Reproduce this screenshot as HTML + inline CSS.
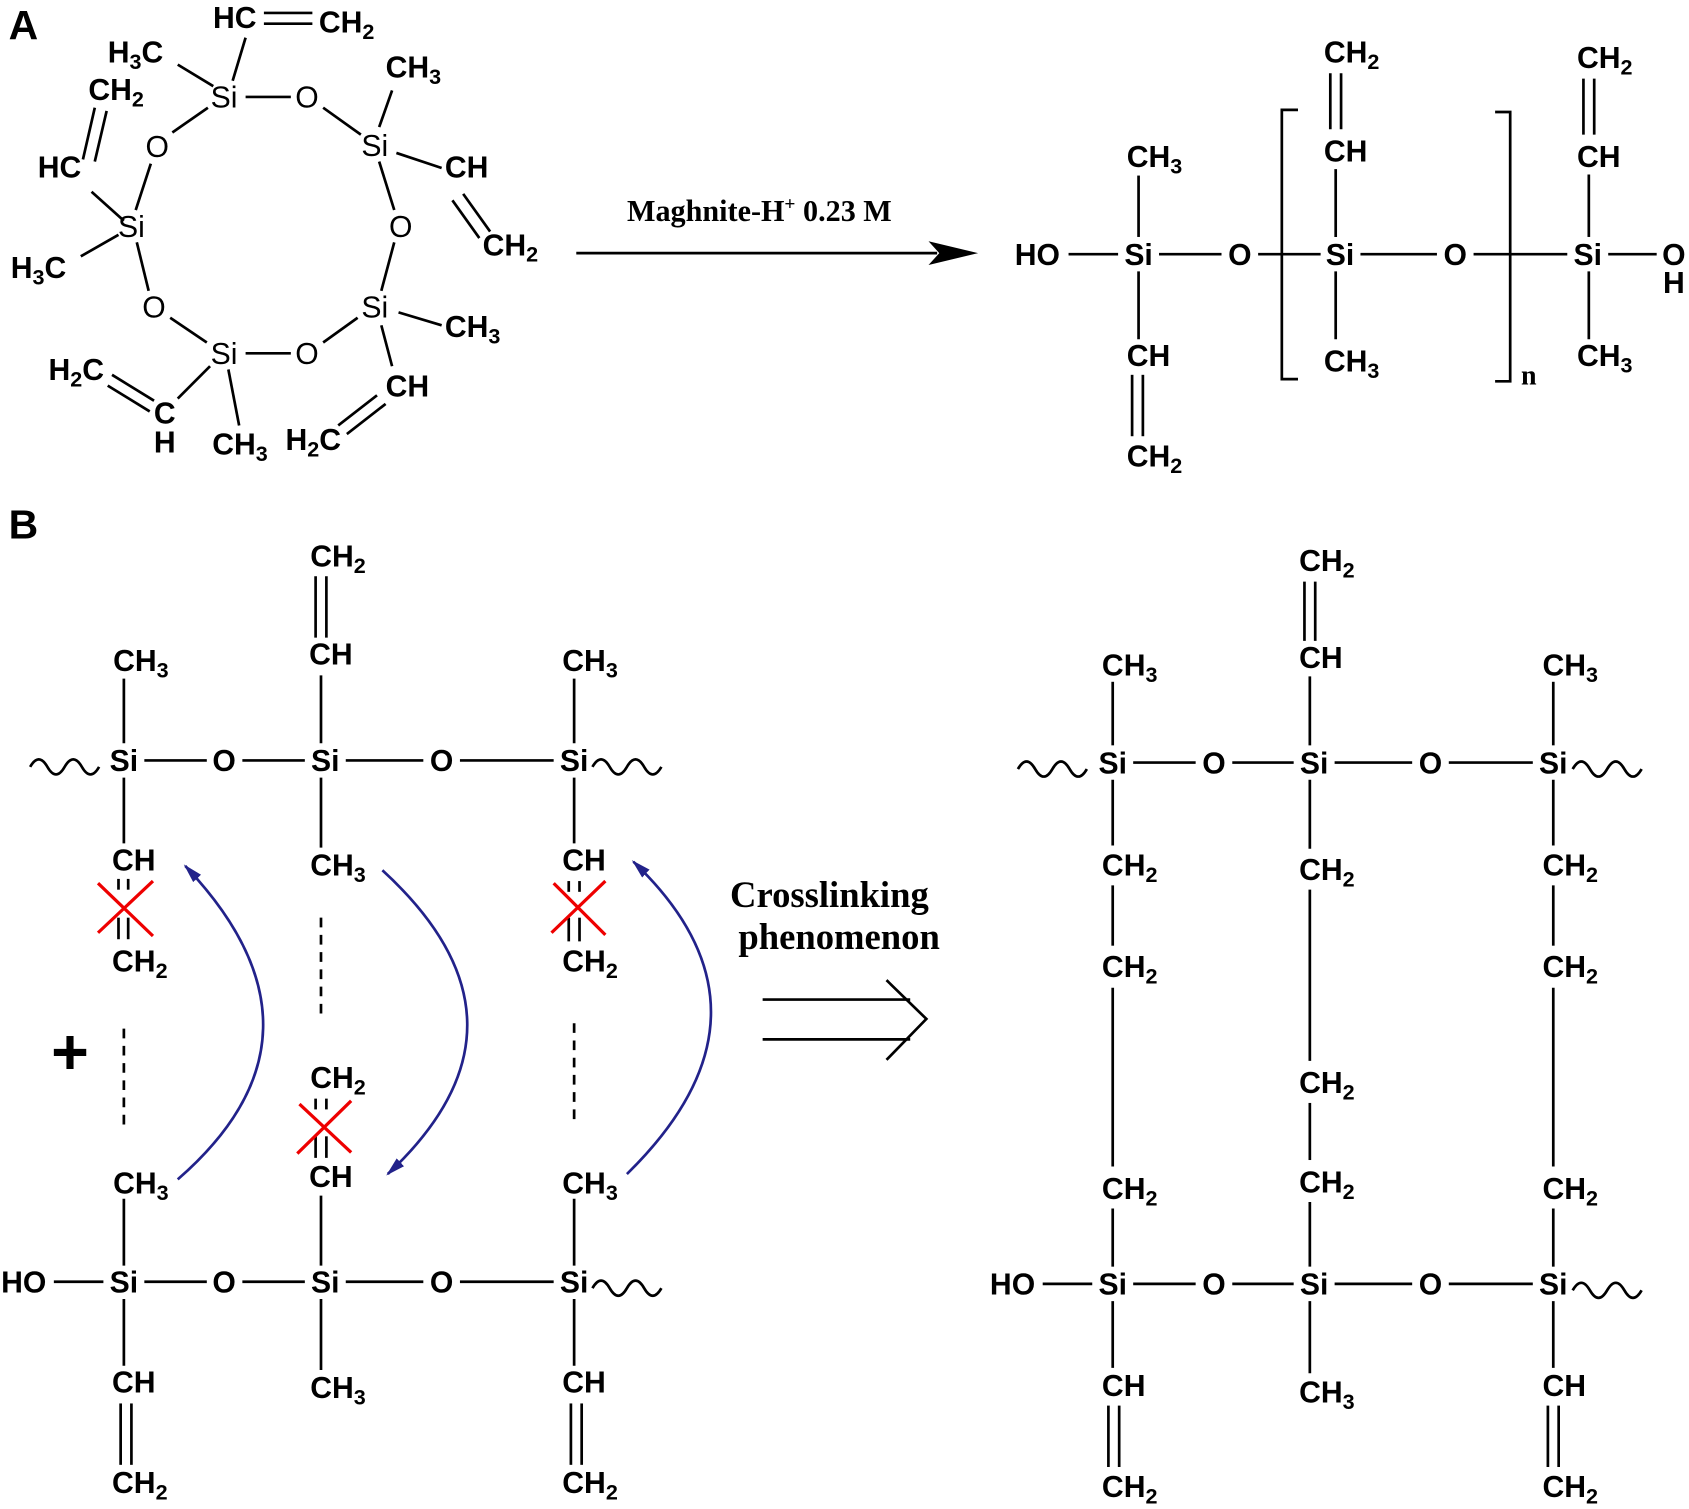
<!DOCTYPE html>
<html><head><meta charset="utf-8"><style>
html,body{margin:0;padding:0;background:#fff}
svg{display:block}
text{font-family:"Liberation Sans",sans-serif;font-weight:bold;font-size:28px;fill:#000}
.n{font-weight:normal}
.s{font-family:"Liberation Serif",serif;font-size:33px}
line,path{stroke:#000;stroke-width:2.5;fill:none}
.r{stroke:#e00;stroke-width:3}
.b{stroke:#22228a;stroke-width:2.5}
.d{stroke-dasharray:9 7}
</style></head><body>
<svg width="1689" height="1509" viewBox="0 0 1568 1401" preserveAspectRatio="none" xmlns="http://www.w3.org/2000/svg">
<defs><marker id="ah" markerWidth="20" markerHeight="12" refX="16" refY="5" orient="auto" markerUnits="userSpaceOnUse"><path d="M0,0 L18,5 L0,10 z" style="fill:#22228a;stroke:none"/></marker></defs>
<text x="8" y="36" style="font-size:38px">A</text>
<text x="8" y="500" style="font-size:38px">B</text>

<!-- Ring -->
<text class="n" x="208" y="100" text-anchor="middle">Si</text>
<text class="n" x="348" y="145" text-anchor="middle">Si</text>
<text class="n" x="348" y="295" text-anchor="middle">Si</text>
<text class="n" x="208" y="338" text-anchor="middle">Si</text>
<text class="n" x="122" y="220" text-anchor="middle">Si</text>
<text class="n" x="285" y="100" text-anchor="middle">O</text>
<text class="n" x="372" y="220" text-anchor="middle">O</text>
<text class="n" x="285" y="338" text-anchor="middle">O</text>
<text class="n" x="143" y="295" text-anchor="middle">O</text>
<text class="n" x="146" y="146" text-anchor="middle">O</text>
<line x1="228" y1="90" x2="270" y2="90"/><line x1="300" y1="100" x2="335" y2="125"/>
<line x1="352" y1="150" x2="366" y2="195"/><line x1="366" y1="225" x2="354" y2="270"/>
<line x1="332" y1="295" x2="300" y2="318"/><line x1="270" y1="328" x2="228" y2="328"/>
<line x1="192" y1="318" x2="158" y2="295"/><line x1="138" y1="270" x2="127" y2="225"/>
<line x1="126" y1="195" x2="140" y2="152"/><line x1="160" y1="123" x2="193" y2="100"/>
<text x="218" y="26" text-anchor="middle">HC</text><text x="296" y="30">CH<tspan dy="6" font-size="20">2</tspan></text>
<line x1="245" y1="12" x2="290" y2="12"/><line x1="245" y1="22" x2="290" y2="22"/>
<line x1="228" y1="35" x2="216" y2="75"/>
<text x="100" y="58">H<tspan dy="6" font-size="20">3</tspan><tspan dy="-6">C</tspan></text>
<line x1="165" y1="60" x2="198" y2="80"/>
<text x="82" y="93">CH<tspan dy="6" font-size="20">2</tspan></text>
<line x1="88" y1="100" x2="77" y2="148"/><line x1="99" y1="103" x2="88" y2="150"/>
<text x="35" y="165">HC</text>
<line x1="85" y1="178" x2="115" y2="205"/>
<text x="10" y="258">H<tspan dy="6" font-size="20">3</tspan><tspan dy="-6">C</tspan></text>
<line x1="75" y1="238" x2="110" y2="218"/>
<text x="358" y="72">CH<tspan dy="6" font-size="20">3</tspan></text>
<line x1="352" y1="118" x2="364" y2="84"/>
<text x="413" y="165">CH</text><line x1="368" y1="142" x2="410" y2="156"/>
<line x1="430" y1="180" x2="455" y2="215"/><line x1="420" y1="186" x2="445" y2="221"/>
<text x="448" y="237">CH<tspan dy="6" font-size="20">2</tspan></text>
<text x="413" y="313">CH<tspan dy="6" font-size="20">3</tspan></text>
<line x1="370" y1="290" x2="410" y2="302"/>
<text x="358" y="368">CH</text><line x1="354" y1="302" x2="364" y2="340"/>
<line x1="358" y1="375" x2="322" y2="403"/><line x1="350" y1="367" x2="314" y2="395"/>
<text x="265" y="418">H<tspan dy="6" font-size="20">2</tspan><tspan dy="-6">C</tspan></text>
<text x="45" y="353">H<tspan dy="6" font-size="20">2</tspan><tspan dy="-6">C</tspan></text>
<line x1="104" y1="348" x2="143" y2="372"/><line x1="100" y1="358" x2="139" y2="382"/>
<text x="153" y="393" text-anchor="middle">C</text><text x="153" y="420" text-anchor="middle">H</text>
<line x1="195" y1="340" x2="165" y2="370"/>
<text x="197" y="422">CH<tspan dy="6" font-size="20">3</tspan></text>
<line x1="212" y1="343" x2="222" y2="395"/>

<!-- Arrow A -->
<text class="s" x="705" y="205" text-anchor="middle" style="font-size:28px">Maghnite-H<tspan dy="-10" font-size="18">+</tspan><tspan dy="10"> 0.23 M</tspan></text>
<line x1="535" y1="235" x2="870" y2="235"/>
<path d="M862,224 L908,235 L862,246 L872,235 z" style="fill:#000;stroke:none"/>

<!-- Product A -->
<text x="963" y="246" text-anchor="middle">HO</text>
<text x="1057" y="246" text-anchor="middle">Si</text>
<text x="1151" y="246" text-anchor="middle">O</text>
<text x="1244" y="246" text-anchor="middle">Si</text>
<text x="1351" y="246" text-anchor="middle">O</text>
<text x="1474" y="246" text-anchor="middle">Si</text>
<text x="1554" y="246" text-anchor="middle">O</text>
<text x="1554" y="272" text-anchor="middle">H</text>
<line x1="992" y1="236" x2="1038" y2="236"/><line x1="1076" y1="236" x2="1134" y2="236"/>
<line x1="1168" y1="236" x2="1226" y2="236"/><line x1="1263" y1="236" x2="1334" y2="236"/>
<line x1="1368" y1="236" x2="1455" y2="236"/><line x1="1493" y1="236" x2="1538" y2="236"/>
<text x="1046" y="155">CH<tspan dy="6" font-size="20">3</tspan></text>
<line x1="1057" y1="163" x2="1057" y2="220"/><line x1="1057" y1="252" x2="1057" y2="315"/>
<text x="1046" y="340">CH</text>
<line x1="1051" y1="348" x2="1051" y2="405"/><line x1="1061" y1="348" x2="1061" y2="405"/>
<text x="1046" y="433">CH<tspan dy="6" font-size="20">2</tspan></text>
<path d="M1205,102 L1190,102 L1190,352 L1205,352"/>
<path d="M1388,104 L1402,104 L1402,354 L1388,354"/>
<text class="s" x="1412" y="357" style="font-size:26px">n</text>
<text x="1229" y="58">CH<tspan dy="6" font-size="20">2</tspan></text>
<line x1="1235" y1="68" x2="1235" y2="120"/><line x1="1245" y1="68" x2="1245" y2="120"/>
<text x="1229" y="150">CH</text>
<line x1="1240" y1="157" x2="1240" y2="220"/><line x1="1240" y1="252" x2="1240" y2="315"/>
<text x="1229" y="345">CH<tspan dy="6" font-size="20">3</tspan></text>
<text x="1464" y="63">CH<tspan dy="6" font-size="20">2</tspan></text>
<line x1="1470" y1="73" x2="1470" y2="125"/><line x1="1480" y1="73" x2="1480" y2="125"/>
<text x="1464" y="155">CH</text>
<line x1="1475" y1="162" x2="1475" y2="220"/><line x1="1475" y1="252" x2="1475" y2="315"/>
<text x="1464" y="340">CH<tspan dy="6" font-size="20">3</tspan></text>

<!-- B left top chain -->
<path d="M28,712 q8,-14 16,0 q8,14 16,0 q8,-14 16,0 q8,14 16,0"/>
<path d="M550,712 q8,-14 16,0 q8,14 16,0 q8,-14 16,0 q8,14 16,0"/>
<text x="115" y="716" text-anchor="middle">Si</text><text x="208" y="716" text-anchor="middle">O</text>
<text x="302" y="716" text-anchor="middle">Si</text><text x="410" y="716" text-anchor="middle">O</text>
<text x="533" y="716" text-anchor="middle">Si</text>
<line x1="134" y1="706" x2="192" y2="706"/><line x1="225" y1="706" x2="283" y2="706"/>
<line x1="321" y1="706" x2="393" y2="706"/><line x1="427" y1="706" x2="514" y2="706"/>
<text x="105" y="623">CH<tspan dy="6" font-size="20">3</tspan></text>
<line x1="115" y1="630" x2="115" y2="690"/><line x1="115" y1="722" x2="115" y2="783"/>
<text x="104" y="808">CH</text>
<line x1="110" y1="816" x2="110" y2="826"/><line x1="119" y1="816" x2="119" y2="826"/>
<line x1="110" y1="852" x2="110" y2="872"/><line x1="119" y1="852" x2="119" y2="872"/>
<line class="r" x1="91" y1="866" x2="142" y2="818"/><line class="r" x1="91" y1="820" x2="142" y2="869"/>
<text x="104" y="902">CH<tspan dy="6" font-size="20">2</tspan></text>
<text x="288" y="526">CH<tspan dy="6" font-size="20">2</tspan></text>
<line x1="293" y1="535" x2="293" y2="592"/><line x1="303" y1="535" x2="303" y2="592"/>
<text x="287" y="617">CH</text>
<line x1="298" y1="627" x2="298" y2="690"/><line x1="298" y1="722" x2="298" y2="787"/>
<text x="288" y="813">CH<tspan dy="6" font-size="20">3</tspan></text>
<line class="d" x1="298" y1="852" x2="298" y2="945"/>
<text x="522" y="623">CH<tspan dy="6" font-size="20">3</tspan></text>
<line x1="533" y1="630" x2="533" y2="690"/><line x1="533" y1="722" x2="533" y2="783"/>
<text x="522" y="808">CH</text>
<line x1="528" y1="818" x2="528" y2="828"/><line x1="538" y1="818" x2="538" y2="828"/>
<line x1="528" y1="852" x2="528" y2="874"/><line x1="538" y1="852" x2="538" y2="874"/>
<line class="r" x1="512" y1="866" x2="562" y2="818"/><line class="r" x1="514" y1="820" x2="562" y2="868"/>
<text x="522" y="902">CH<tspan dy="6" font-size="20">2</tspan></text>
<line class="d" x1="115" y1="955" x2="115" y2="1048"/>
<line class="d" x1="533" y1="950" x2="533" y2="1043"/>
<text x="65" y="997" text-anchor="middle" style="font-size:60px">+</text>

<!-- B left bottom chain -->
<text x="22" y="1200" text-anchor="middle">HO</text>
<text x="115" y="1200" text-anchor="middle">Si</text><text x="208" y="1200" text-anchor="middle">O</text>
<text x="302" y="1200" text-anchor="middle">Si</text><text x="410" y="1200" text-anchor="middle">O</text>
<text x="533" y="1200" text-anchor="middle">Si</text>
<line x1="50" y1="1190" x2="96" y2="1190"/>
<line x1="134" y1="1190" x2="192" y2="1190"/><line x1="225" y1="1190" x2="283" y2="1190"/>
<line x1="321" y1="1190" x2="393" y2="1190"/><line x1="427" y1="1190" x2="514" y2="1190"/>
<path d="M550,1196 q8,-14 16,0 q8,14 16,0 q8,-14 16,0 q8,14 16,0"/>
<text x="105" y="1108">CH<tspan dy="6" font-size="20">3</tspan></text>
<line x1="115" y1="1113" x2="115" y2="1175"/><line x1="115" y1="1206" x2="115" y2="1268"/>
<text x="104" y="1293">CH</text>
<line x1="112" y1="1303" x2="112" y2="1360"/><line x1="122" y1="1303" x2="122" y2="1360"/>
<text x="104" y="1386">CH<tspan dy="6" font-size="20">2</tspan></text>
<text x="288" y="1010">CH<tspan dy="6" font-size="20">2</tspan></text>
<line x1="293" y1="1020" x2="293" y2="1030"/><line x1="303" y1="1020" x2="303" y2="1030"/>
<line x1="293" y1="1055" x2="293" y2="1075"/><line x1="303" y1="1055" x2="303" y2="1075"/>
<line class="r" x1="276" y1="1071" x2="326" y2="1022"/><line class="r" x1="278" y1="1025" x2="326" y2="1070"/>
<text x="287" y="1102">CH</text>
<line x1="298" y1="1110" x2="298" y2="1175"/><line x1="298" y1="1206" x2="298" y2="1272"/>
<text x="288" y="1298">CH<tspan dy="6" font-size="20">3</tspan></text>
<text x="522" y="1108">CH<tspan dy="6" font-size="20">3</tspan></text>
<line x1="533" y1="1113" x2="533" y2="1175"/><line x1="533" y1="1206" x2="533" y2="1268"/>
<text x="522" y="1293">CH</text>
<line x1="530" y1="1303" x2="530" y2="1360"/><line x1="540" y1="1303" x2="540" y2="1360"/>
<text x="522" y="1386">CH<tspan dy="6" font-size="20">2</tspan></text>

<!-- blue arrows -->
<path class="b" d="M165,1095 Q320,960 172,804" marker-end="url(#ah)"/>
<path class="b" d="M355,808 Q510,950 360,1090" marker-end="url(#ah)"/>
<path class="b" d="M582,1090 Q735,940 588,800" marker-end="url(#ah)"/>

<!-- crosslinking -->
<text class="s" x="770" y="842" text-anchor="middle" style="font-size:34px">Crosslinking</text>
<text class="s" x="779" y="881" text-anchor="middle" style="font-size:34px">phenomenon</text>
<line x1="708" y1="928" x2="845" y2="928"/><line x1="708" y1="965" x2="845" y2="965"/>
<path d="M823,910 L860,946 L823,984"/>

<!-- Right structure -->
<path d="M945,714 q8,-14 16,0 q8,14 16,0 q8,-14 16,0 q8,14 16,0"/>
<path d="M1460,714 q8,-14 16,0 q8,14 16,0 q8,-14 16,0 q8,14 16,0"/>
<text x="1033" y="718" text-anchor="middle">Si</text><text x="1127" y="718" text-anchor="middle">O</text>
<text x="1220" y="718" text-anchor="middle">Si</text><text x="1328" y="718" text-anchor="middle">O</text>
<text x="1442" y="718" text-anchor="middle">Si</text>
<line x1="1052" y1="708" x2="1110" y2="708"/><line x1="1144" y1="708" x2="1201" y2="708"/>
<line x1="1239" y1="708" x2="1311" y2="708"/><line x1="1345" y1="708" x2="1423" y2="708"/>
<text x="940" y="1202" text-anchor="middle">HO</text>
<text x="1033" y="1202" text-anchor="middle">Si</text><text x="1127" y="1202" text-anchor="middle">O</text>
<text x="1220" y="1202" text-anchor="middle">Si</text><text x="1328" y="1202" text-anchor="middle">O</text>
<text x="1442" y="1202" text-anchor="middle">Si</text>
<line x1="968" y1="1192" x2="1014" y2="1192"/>
<line x1="1052" y1="1192" x2="1110" y2="1192"/><line x1="1144" y1="1192" x2="1201" y2="1192"/>
<line x1="1239" y1="1192" x2="1311" y2="1192"/><line x1="1345" y1="1192" x2="1423" y2="1192"/>
<path d="M1460,1198 q8,-14 16,0 q8,14 16,0 q8,-14 16,0 q8,14 16,0"/>
<!-- col1 -->
<text x="1023" y="627">CH<tspan dy="6" font-size="20">3</tspan></text>
<line x1="1033" y1="633" x2="1033" y2="692"/>
<line x1="1033" y1="724" x2="1033" y2="785"/>
<text x="1023" y="813">CH<tspan dy="6" font-size="20">2</tspan></text>
<line x1="1033" y1="822" x2="1033" y2="878"/>
<text x="1023" y="907">CH<tspan dy="6" font-size="20">2</tspan></text>
<line x1="1033" y1="917" x2="1033" y2="1083"/>
<text x="1023" y="1113">CH<tspan dy="6" font-size="20">2</tspan></text>
<line x1="1033" y1="1122" x2="1033" y2="1176"/>
<line x1="1033" y1="1208" x2="1033" y2="1270"/>
<text x="1023" y="1296">CH</text>
<line x1="1029" y1="1305" x2="1029" y2="1362"/><line x1="1039" y1="1305" x2="1039" y2="1362"/>
<text x="1023" y="1390">CH<tspan dy="6" font-size="20">2</tspan></text>
<!-- col2 -->
<text x="1206" y="530">CH<tspan dy="6" font-size="20">2</tspan></text>
<line x1="1211" y1="540" x2="1211" y2="595"/><line x1="1221" y1="540" x2="1221" y2="595"/>
<text x="1206" y="620">CH</text>
<line x1="1216" y1="628" x2="1216" y2="692"/>
<line x1="1216" y1="724" x2="1216" y2="788"/>
<text x="1206" y="817">CH<tspan dy="6" font-size="20">2</tspan></text>
<line x1="1216" y1="826" x2="1216" y2="985"/>
<text x="1206" y="1015">CH<tspan dy="6" font-size="20">2</tspan></text>
<line x1="1216" y1="1024" x2="1216" y2="1077"/>
<text x="1206" y="1107">CH<tspan dy="6" font-size="20">2</tspan></text>
<line x1="1216" y1="1116" x2="1216" y2="1176"/>
<line x1="1216" y1="1208" x2="1216" y2="1275"/>
<text x="1206" y="1302">CH<tspan dy="6" font-size="20">3</tspan></text>
<!-- col3 -->
<text x="1432" y="627">CH<tspan dy="6" font-size="20">3</tspan></text>
<line x1="1442" y1="633" x2="1442" y2="692"/>
<line x1="1442" y1="724" x2="1442" y2="785"/>
<text x="1432" y="813">CH<tspan dy="6" font-size="20">2</tspan></text>
<line x1="1442" y1="822" x2="1442" y2="878"/>
<text x="1432" y="907">CH<tspan dy="6" font-size="20">2</tspan></text>
<line x1="1442" y1="917" x2="1442" y2="1083"/>
<text x="1432" y="1113">CH<tspan dy="6" font-size="20">2</tspan></text>
<line x1="1442" y1="1122" x2="1442" y2="1176"/>
<line x1="1442" y1="1208" x2="1442" y2="1270"/>
<text x="1432" y="1296">CH</text>
<line x1="1437" y1="1305" x2="1437" y2="1362"/><line x1="1447" y1="1305" x2="1447" y2="1362"/>
<text x="1432" y="1390">CH<tspan dy="6" font-size="20">2</tspan></text>
</svg>
</body></html>
